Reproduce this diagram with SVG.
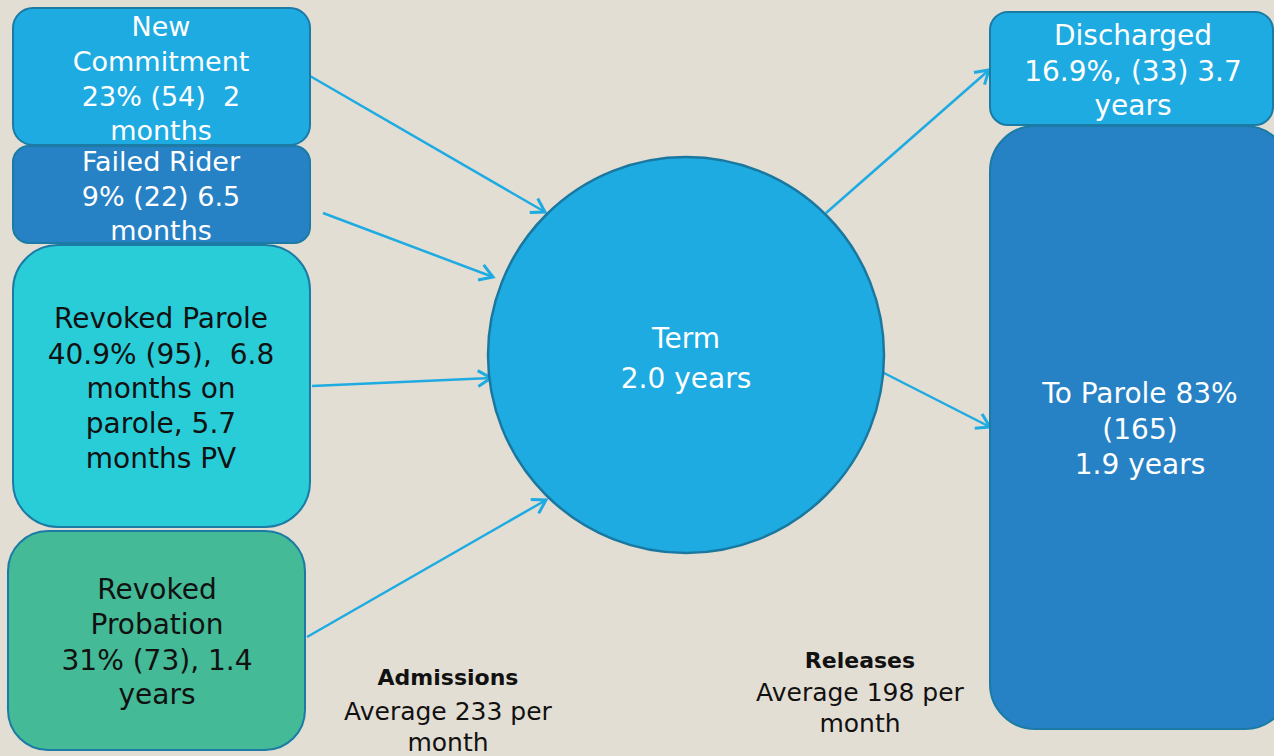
<svg xmlns="http://www.w3.org/2000/svg" width="1274" height="756" viewBox="0 0 1274 756">
<defs>
<style>
.bg{fill:#E3DED3}
.box{stroke:#1B7BA5;stroke-width:2}
.b1{fill:#1EABE2}
.b2{fill:#2682C5}
.b3{fill:#29CDD8}
.b4{fill:#44BA96}
.t{font-family:"DejaVu Sans","Liberation Sans",sans-serif;font-size:28px;text-anchor:middle}
.s{font-size:27px}
.w{fill:#FFFFFF}
.k{fill:#111111}
.lbl{font-family:"DejaVu Sans","Liberation Sans",sans-serif;font-size:25px;text-anchor:middle;fill:#111111}
.lblb{font-weight:bold;font-size:22px}
.con{stroke:#1EABE2;stroke-width:2.5;fill:none;marker-end:url(#ah)}
</style>
<marker id="ah" markerWidth="20" markerHeight="20" refX="16" refY="10" orient="auto" markerUnits="userSpaceOnUse">
<path d="M3,2 L16,10 L3,18" fill="none" stroke="#1EABE2" stroke-width="3"/>
</marker>
</defs>
<rect class="bg" x="0" y="0" width="1274" height="756"/>

<g id="connectors">
<line class="con" x1="310" y1="76" x2="545" y2="212"/>
<line class="con" x1="323" y1="213" x2="493" y2="277"/>
<line class="con" x1="312" y1="386" x2="491" y2="378"/>
<line class="con" x1="307" y1="637" x2="546" y2="500"/>
<line class="con" x1="826" y1="213" x2="989" y2="70"/>
<line class="con" x1="882" y1="372" x2="990" y2="427"/>
</g>

<g id="new-commitment">
<rect class="box b1" x="13" y="8" width="297" height="137" rx="20"/>
<text class="t s w" x="161" y="36">New</text>
<text class="t s w" x="161" y="71">Commitment</text>
<text class="t s w" x="161" y="106" xml:space="preserve">23% (54)  2</text>
<text class="t s w" x="161" y="140">months</text>
</g>

<g id="failed-rider">
<rect class="box b2" x="13" y="146" width="297" height="97" rx="16"/>
<text class="t s w" x="161" y="171">Failed Rider</text>
<text class="t s w" x="161" y="206">9% (22) 6.5</text>
<text class="t s w" x="161" y="240">months</text>
</g>

<g id="revoked-parole">
<rect class="box b3" x="13" y="245" width="297" height="282" rx="45"/>
<text class="t k" x="161" y="328">Revoked Parole</text>
<text class="t k" x="161" y="364" xml:space="preserve">40.9% (95),  6.8</text>
<text class="t k" x="161" y="398">months on</text>
<text class="t k" x="161" y="433">parole, 5.7</text>
<text class="t k" x="161" y="468">months PV</text>
</g>

<g id="revoked-probation">
<rect class="box b4" x="8" y="531" width="297" height="219" rx="40"/>
<text class="t k" x="157" y="599">Revoked</text>
<text class="t k" x="157" y="634">Probation</text>
<text class="t k" x="157" y="670">31% (73), 1.4</text>
<text class="t k" x="157" y="704">years</text>
</g>

<g id="term">
<circle cx="686" cy="355" r="198" fill="#1EABE2" stroke="#1A78A0" stroke-width="2.5"/>
<text class="t w" x="686" y="348">Term</text>
<text class="t w" x="686" y="388">2.0 years</text>
</g>

<g id="discharged">
<rect class="box b1" x="990" y="12" width="283" height="113" rx="18"/>
<text class="t w" x="1133" y="45">Discharged</text>
<text class="t w" x="1133" y="81">16.9%, (33) 3.7</text>
<text class="t w" x="1133" y="115">years</text>
</g>

<g id="to-parole">
<rect class="box b2" x="990" y="126" width="300" height="603" rx="45"/>
<text class="t w" x="1140" y="403">To Parole 83%</text>
<text class="t w" x="1140" y="439">(165)</text>
<text class="t w" x="1140" y="474">1.9 years</text>
</g>

<g id="admissions-label">
<text class="lbl lblb" x="448" y="685">Admissions</text>
<text class="lbl" x="448" y="720">Average 233 per</text>
<text class="lbl" x="448" y="751">month</text>
</g>

<g id="releases-label">
<text class="lbl lblb" x="860" y="668">Releases</text>
<text class="lbl" x="860" y="701">Average 198 per</text>
<text class="lbl" x="860" y="732">month</text>
</g>
</svg>
